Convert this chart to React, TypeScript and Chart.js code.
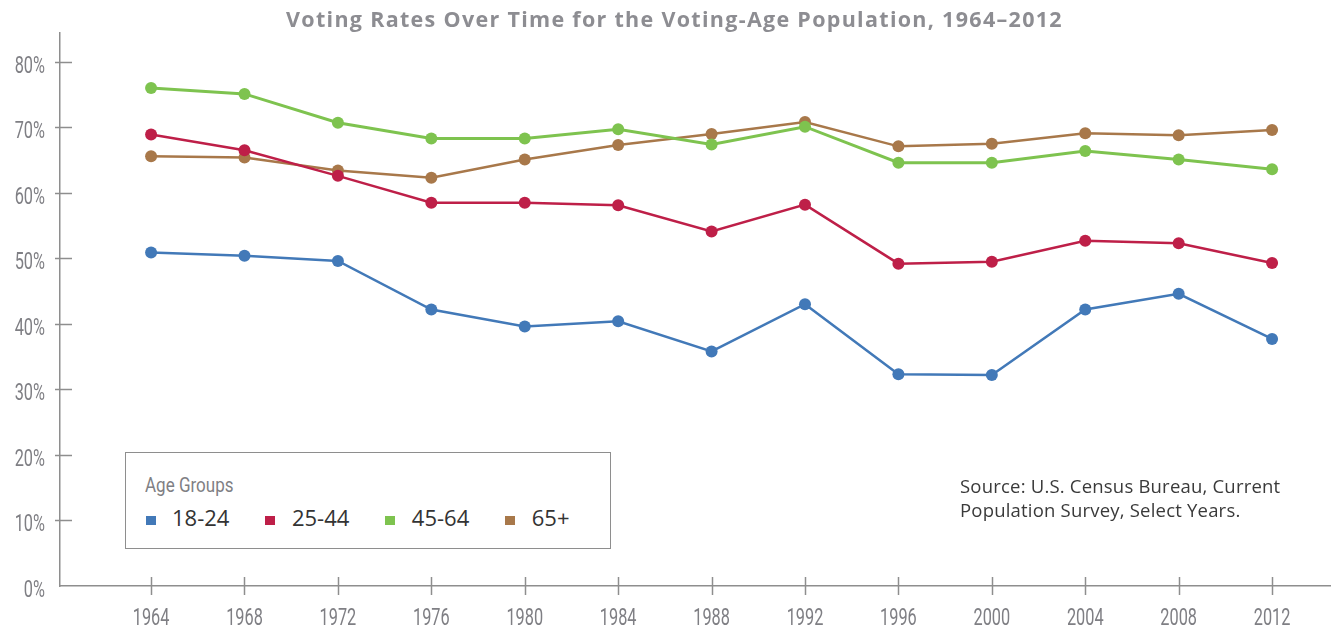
import React, { useEffect, useRef } from "react";
import { Chart, registerables } from "chart.js";

Chart.register(...registerables);

const chartTitle = "Voting Rates Over Time for the Voting-Age Population, 1964–2012";
const years = [1964, 1968, 1972, 1976, 1980, 1984, 1988, 1992, 1996, 2000, 2004, 2008, 2012];
const seriesLabels = ["18-24", "25-44", "45-64", "65+"];
const seriesColors = ["#4279b8", "#be1f48", "#7ec34f", "#a8784a"];
const age18to24 = [50.9, 50.4, 49.6, 42.2, 39.6, 40.4, 35.8, 43.0, 32.3, 32.2, 42.2, 44.6, 37.7];
const age25to44 = [68.9, 66.5, 62.6, 58.5, 58.5, 58.1, 54.1, 58.2, 49.2, 49.5, 52.7, 52.3, 49.3];
const age45to64 = [76.0, 75.1, 70.7, 68.3, 68.3, 69.7, 67.4, 70.1, 64.6, 64.6, 66.4, 65.1, 63.6];
const age65plus = [65.6, 65.4, 63.4, 62.3, 65.1, 67.3, 69.0, 70.8, 67.1, 67.5, 69.1, 68.8, 69.6];
const yTicks = [0, 10, 20, 30, 40, 50, 60, 70, 80];
const legendTitle = "Age Groups";
const sourceLines = ["Source: U.S. Census Bureau, Current", "Population Survey, Select Years."];

const AXIS_COLOR = "#8e8e8e";
const LABEL_COLOR = "#7f7f84";
const COND_FONT = "Roboto, 'Liberation Sans', sans-serif";
const COND_SCALE = 0.68;

export default function App() {
  const canvasRef = useRef<HTMLCanvasElement>(null);

  useEffect(() => {
    const canvas = canvasRef.current;
    if (!canvas) return;
    const allSeries = [age18to24, age25to44, age45to64, age65plus];

    // axis tick marks that cross the axis line
    const crossTicks = {
      id: "crossTicks",
      beforeDatasetsDraw(chart: any) {
        const { ctx } = chart;
        const xs = chart.scales.x;
        const ys = chart.scales.y;
        ctx.save();
        ctx.strokeStyle = AXIS_COLOR;
        ctx.lineWidth = 1.5;
        ctx.beginPath();
        for (const t of ys.ticks) {
          if (t.value === 0) continue;
          const py = Math.round(ys.getPixelForValue(t.value)) + 0.5;
          ctx.moveTo(xs.left - 5, py);
          ctx.lineTo(xs.left + 12, py);
        }
        for (const t of xs.ticks) {
          const px = Math.round(xs.getPixelForValue(t.value)) + 0.5;
          ctx.moveTo(px, ys.bottom - 9);
          ctx.lineTo(px, ys.bottom + 9);
        }
        ctx.stroke();
        ctx.restore();
      },
    };

    // condensed tick labels (narrow face is not installed, so compress horizontally)
    const condensedLabels = {
      id: "condensedLabels",
      afterDraw(chart: any) {
        const { ctx } = chart;
        const xs = chart.scales.x;
        const ys = chart.scales.y;
        ctx.save();
        ctx.fillStyle = LABEL_COLOR;
        ctx.font = `400 24px ${COND_FONT}`;
        ctx.textBaseline = "alphabetic";
        ctx.textAlign = "center";
        for (const t of xs.ticks) {
          const px = xs.getPixelForValue(t.value);
          ctx.save();
          ctx.translate(px, ys.bottom + 39);
          ctx.scale(COND_SCALE, 1);
          ctx.fillText(String(t.value), 0, 0);
          ctx.restore();
        }
        ctx.textAlign = "right";
        for (const t of ys.ticks) {
          const py = ys.getPixelForValue(t.value);
          ctx.save();
          ctx.translate(xs.left - 15, py + 11);
          ctx.scale(COND_SCALE, 1);
          ctx.fillText(t.value + "%", 0, 0);
          ctx.restore();
        }
        ctx.restore();
      },
    };

    const chart = new Chart(canvas, {
      type: "line",
      data: {
        datasets: seriesLabels.map((label, i) => ({
          label,
          data: years.map((yr, j) => ({ x: yr, y: allSeries[i][j] })),
          borderColor: seriesColors[i],
          backgroundColor: seriesColors[i],
          pointBackgroundColor: seriesColors[i],
          pointBorderColor: seriesColors[i],
          pointRadius: 6,
          pointBorderWidth: 0,
          borderWidth: i === 2 ? 3 : 2.5,
          tension: 0,
          fill: false,
        })),
      },
      options: {
        animation: false,
        responsive: false,
        events: [],
        layout: { padding: { left: 0, right: 13, top: 33, bottom: 0 } },
        plugins: {
          legend: { display: false },
          tooltip: { enabled: false },
          title: { display: false },
        },
        scales: {
          x: {
            type: "linear",
            min: 1960.1,
            max: 2014.48,
            afterBuildTicks: (scale: any) => {
              scale.ticks = years.map((v) => ({ value: v }));
            },
            afterFit: (scale: any) => {
              scale.height = 44;
            },
            grid: { display: false },
            border: { display: true, color: AXIS_COLOR, width: 1.5 },
            ticks: { display: false },
          },
          y: {
            min: 0,
            max: 84.4,
            afterBuildTicks: (scale: any) => {
              scale.ticks = yTicks.map((v) => ({ value: v }));
            },
            afterFit: (scale: any) => {
              scale.width = 60;
            },
            grid: { display: false },
            border: { display: true, color: AXIS_COLOR, width: 1.5 },
            ticks: { display: false },
          },
        },
      },
      plugins: [crossTicks, condensedLabels],
    } as any);

    return () => chart.destroy();
  }, []);

  return (
    <div style={{ position: "fixed", left: 0, top: 0, width: 1343, height: 630, background: "#fff", overflow: "hidden" }}>
      <canvas ref={canvasRef} width={1343} height={630} style={{ width: 1343, height: 630, display: "block" }} />
      <div
        style={{
          position: "absolute",
          left: 0,
          top: 5,
          width: 1349,
          textAlign: "center",
          fontFamily: "'Open Sans', sans-serif",
          fontWeight: 700,
          fontSize: 21.5,
          lineHeight: "28px",
          letterSpacing: "1.3px",
          color: "#8d8d92",
          whiteSpace: "nowrap",
        }}
      >
        {chartTitle}
      </div>
      <div
        style={{
          position: "absolute",
          left: 125,
          top: 452,
          width: 486,
          height: 97,
          border: `1px solid ${AXIS_COLOR}`,
          boxSizing: "border-box",
          background: "#fff",
        }}
      >
        <div
          style={{
            position: "absolute",
            left: 19,
            top: 19.5,
            fontFamily: COND_FONT,
            fontSize: 21,
            lineHeight: "24px",
            color: LABEL_COLOR,
            whiteSpace: "nowrap",
            transform: "scaleX(0.81)",
            transformOrigin: "left center",
          }}
        >
          {legendTitle}
        </div>
        <div style={{ position: "absolute", left: 19.5, top: 51.5, height: 24, display: "flex", alignItems: "center" }}>
          {seriesLabels.map((label, i) => (
            <div key={label} style={{ display: "flex", alignItems: "center", marginRight: 36 }}>
              <span
                style={{
                  width: 10,
                  height: 9,
                  background: seriesColors[i],
                  display: "inline-block",
                  marginRight: 16.5,
                  position: "relative",
                  top: 4,
                }}
              />
              <span
                style={{
                  fontFamily: "'Open Sans', sans-serif",
                  fontSize: 22,
                  lineHeight: "24px",
                  color: "#333",
                  whiteSpace: "nowrap",
                }}
              >
                {label}
              </span>
            </div>
          ))}
        </div>
      </div>
      <div
        style={{
          position: "absolute",
          left: 960,
          top: 474,
          fontFamily: "'Open Sans', sans-serif",
          fontSize: 18.5,
          lineHeight: "24px",
          letterSpacing: "0.2px",
          color: "#3a3a3a",
          whiteSpace: "nowrap",
        }}
      >
        {sourceLines.map((l) => (
          <div key={l}>{l}</div>
        ))}
      </div>
    </div>
  );
}
